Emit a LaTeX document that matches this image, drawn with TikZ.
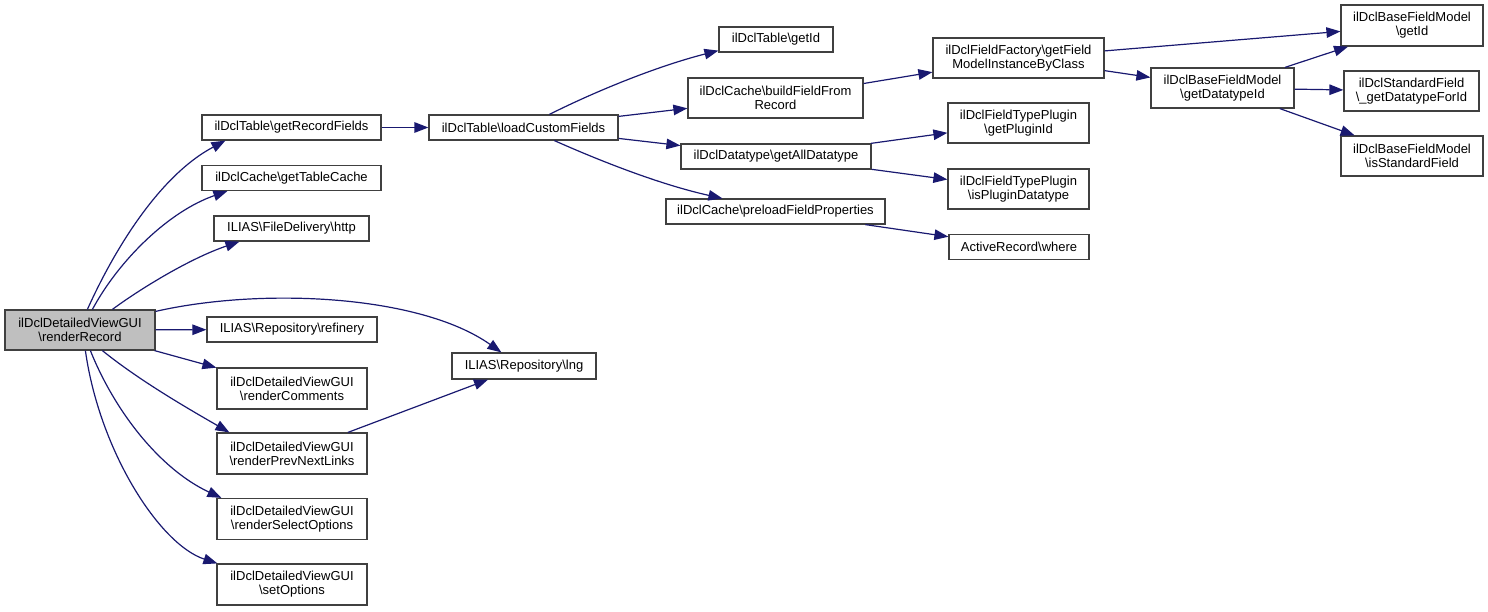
\documentclass[tikz,border=0pt]{standalone}
\usepackage{fontspec}
\setmainfont{Liberation Sans}
\usetikzlibrary{arrows.meta,calc}
\definecolor{edgec}{RGB}{25,25,112}
\definecolor{nodeb}{RGB}{64,64,64}
\definecolor{mainf}{RGB}{191,191,191}
\tikzset{
  box/.style={draw=nodeb, line width=1.2pt, fill=white, rectangle, inner sep=0pt,
    align=center, font=\fontsize{13}{14}\selectfont},
  mainbox/.style={box, fill=mainf},
  edge/.style={draw=edgec, line width=1.2pt, -{Triangle[length=14pt,width=10.5pt]}},
}
\newcommand{\bs}{\textbackslash}
\begin{document}
\begin{tikzpicture}[x=1pt,y=-1pt]
\useasboundingbox (0,0) rectangle (1488,611);
% nodes
\node[mainbox, minimum width=150pt, minimum height=40pt] (main) at (80,330) {ilDclDetailedViewGUI\\\bs renderRecord};
\node[box, minimum width=179pt, minimum height=25pt] (grf) at (291.5,127.5) {ilDclTable\bs getRecordFields};
\node[box, minimum width=179pt, minimum height=25pt] (gtc) at (291.5,178) {ilDclCache\bs getTableCache};
\node[box, minimum width=155pt, minimum height=25pt] (http) at (291.5,228.5) {ILIAS\bs FileDelivery\bs http};
\node[box, minimum width=170pt, minimum height=25pt] (ref) at (292,329.5) {ILIAS\bs Repository\bs refinery};
\node[box, minimum width=150pt, minimum height=41pt] (rc) at (292,388.5) {ilDclDetailedViewGUI\\\bs renderComments};
\node[box, minimum width=150pt, minimum height=41pt] (rpn) at (292,453.5) {ilDclDetailedViewGUI\\\bs renderPrevNextLinks};
\node[box, minimum width=150pt, minimum height=41pt] (rso) at (292,519) {ilDclDetailedViewGUI\\\bs renderSelectOptions};
\node[box, minimum width=150pt, minimum height=41pt] (so) at (292,584.5) {ilDclDetailedViewGUI\\\bs setOptions};
\node[box, minimum width=144pt, minimum height=26pt] (lng) at (524,366) {ILIAS\bs Repository\bs lng};
\node[box, minimum width=189pt, minimum height=25pt] (lcf) at (523.5,127.5) {ilDclTable\bs loadCustomFields};
\node[box, minimum width=114pt, minimum height=25pt] (tgid) at (776,39.5) {ilDclTable\bs getId};
\node[box, minimum width=175pt, minimum height=40pt] (bff) at (775.5,98) {ilDclCache\bs buildFieldFrom\\Record};
\node[box, minimum width=190pt, minimum height=25pt] (gad) at (776,156.5) {ilDclDatatype\bs getAllDatatype};
\node[box, minimum width=219pt, minimum height=25pt] (pfp) at (775.5,211.5) {ilDclCache\bs preloadFieldProperties};
\node[box, minimum width=171pt, minimum height=40pt] (gfm) at (1018.5,58) {ilDclFieldFactory\bs getField\\ModelInstanceByClass};
\node[box, minimum width=141pt, minimum height=40pt] (gpi) at (1018.5,123) {ilDclFieldTypePlugin\\\bs getPluginId};
\node[box, minimum width=141pt, minimum height=40pt] (ipd) at (1018.5,189) {ilDclFieldTypePlugin\\\bs isPluginDatatype};
\node[box, minimum width=140pt, minimum height=25pt] (where) at (1019,247) {ActiveRecord\bs where};
\node[box, minimum width=143pt, minimum height=40pt] (gdt) at (1222.5,88) {ilDclBaseFieldModel\\\bs getDatatypeId};
\node[box, minimum width=142pt, minimum height=41pt] (bgid) at (1412,25.5) {ilDclBaseFieldModel\\\bs getId};
\node[box, minimum width=135pt, minimum height=40pt] (sgd) at (1411.5,91) {ilDclStandardField\\\bs \_getDatatypeForId};
\node[box, minimum width=142pt, minimum height=40pt] (isf) at (1412,156) {ilDclBaseFieldModel\\\bs isStandardField};
% curved edges from main
\draw[edge] ($(main.north west)+(83,0)$) .. controls +(27,-60) and +(-66,35) .. ($(grf.south west)+(24,0)$);
\draw[edge] ($(main.north west)+(88,0)$) .. controls +(27,-50) and +(-58,20) .. ($(gtc.south west)+(26,0)$);
\draw[edge] ($(main.north west)+(108,0)$) .. controls +(27,-20) and +(-50,17) .. ($(http.south west)+(26,0)$);
\draw[edge] ($(main.north east)+(0,2)$) .. controls +(105,-24) and +(-82,-58) .. ($(lng.north west)+(50,0)$);
\draw[edge] (main) -- (ref);
\draw[edge] (main) -- (rc);
\draw[edge] ($(main.south west)+(98,0)$) .. controls +(37,30) and +(-40,-23) .. ($(rpn.north west)+(13,0)$);
\draw[edge] ($(main.south west)+(86,0)$) .. controls +(24,60) and +(-62,-29) .. ($(rso.north west)+(5,0)$);
\draw[edge] ($(main.south west)+(81,0)$) .. controls +(14,100) and +(-58,-19) .. ($(so.north west)+(1,0)$);
\draw[edge] (rpn) -- (lng);
% second level
\draw[edge] (grf) -- (lcf);
\draw[edge] ($(lcf.north west)+(121,0)$) .. controls +(50,-25) and +(-59,15) .. ($(tgid.south west)+(0,-2)$);
\draw[edge] (lcf) -- (bff);
\draw[edge] (lcf) -- (gad);
\draw[edge] ($(lcf.south west)+(126,0)$) .. controls +(45,20) and +(-63,-14) .. ($(pfp.north west)+(57,0)$);
\draw[edge] (bff) -- (gfm);
\draw[edge] (gad) -- (gpi);
\draw[edge] (gad) -- (ipd);
\draw[edge] (pfp) -- (where);
\draw[edge] (gfm) -- (bgid);
\draw[edge] (gfm) -- (gdt);
\draw[edge] (gdt) -- (bgid);
\draw[edge] (gdt) -- (sgd);
\draw[edge] (gdt) -- (isf);
\end{tikzpicture}
\end{document}
